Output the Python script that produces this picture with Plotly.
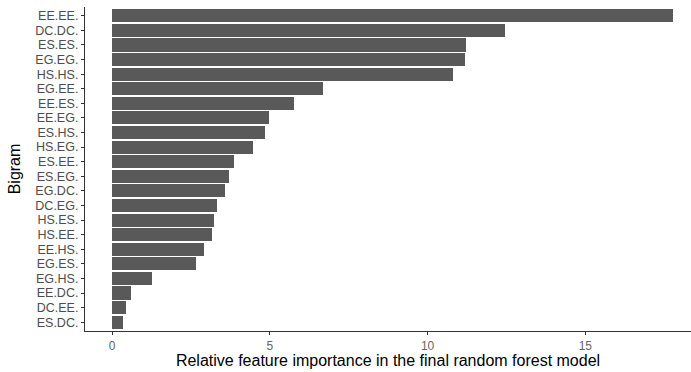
import plotly.graph_objects as go

# Bigram feature importances, ordered from most to least important
bigrams = [
    "EE.EE.", "DC.DC.", "ES.ES.", "EG.EG.", "HS.HS.", "EG.EE.", "EE.ES.",
    "EE.EG.", "ES.HS.", "HS.EG.", "ES.EE.", "ES.EG.", "EG.DC.", "DC.EG.",
    "HS.ES.", "HS.EE.", "EE.HS.", "EG.ES.", "EG.HS.", "EE.DC.", "DC.EE.",
    "ES.DC.",
]
importance = [
    17.79, 12.46, 11.22, 11.20, 10.81, 6.70, 5.78,
    4.98, 4.84, 4.45, 3.86, 3.69, 3.59, 3.33,
    3.23, 3.15, 2.91, 2.66, 1.27, 0.60, 0.43,
    0.34,
]
x_ticks = [0, 5, 10, 15]

fig = go.Figure(
    go.Bar(
        x=importance,
        y=bigrams,
        orientation="h",
        marker=dict(color="#595959", line=dict(width=0)),
        width=0.9,
    )
)

tick_font = dict(family="Liberation Sans, Arial, sans-serif", size=12.5, color="#4D4D4D")
title_font = dict(family="Liberation Sans, Arial, sans-serif", size=16, color="#000000")

fig.update_layout(
    width=691,
    height=372,
    margin=dict(l=85, r=0, t=7, b=41),
    paper_bgcolor="white",
    plot_bgcolor="white",
    showlegend=False,
    bargap=0,
    xaxis=dict(
        range=[-0.86, 18.35],
        tickmode="array",
        tickvals=x_ticks,
        ticktext=[str(v) for v in x_ticks],
        showgrid=False,
        zeroline=False,
        showline=True,
        linecolor="#333333",
        linewidth=1.2,
        ticks="outside",
        ticklen=3,
        tickcolor="#333333",
        tickfont=dict(tick_font, size=12, color="#666666"),
        title=dict(
            text="Relative feature importance in the final random forest model",
            font=title_font,
            standoff=2,
        ),
    ),
    yaxis=dict(
        type="category",
        categoryorder="array",
        categoryarray=bigrams,
        tickmode="array",
        tickvals=bigrams,
        ticktext=bigrams,
        range=[len(bigrams) - 0.4, -0.6],
        showgrid=False,
        zeroline=False,
        showline=True,
        linecolor="#333333",
        linewidth=1.2,
        ticks="outside",
        ticklen=3,
        tickcolor="#333333",
        tickfont=tick_font,
        title=dict(text="Bigram", font=title_font, standoff=10),
    ),
)

fig.write_html("out.html")
